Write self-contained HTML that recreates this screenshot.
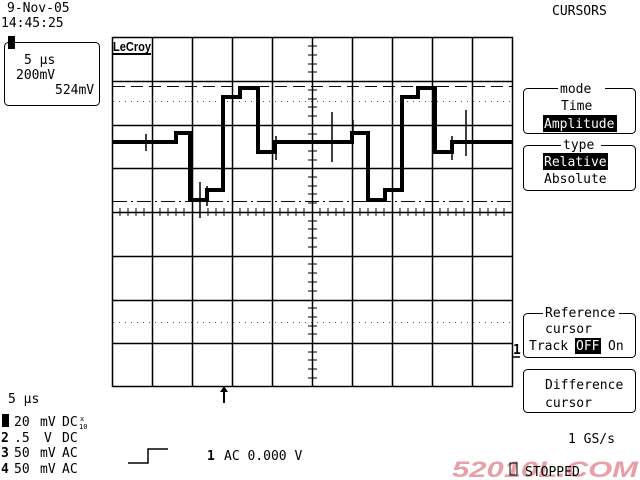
<!DOCTYPE html>
<html><head><style>
html,body{margin:0;padding:0;background:#fff;width:640px;height:480px;overflow:hidden}
svg text{font-family:"DejaVu Sans Mono","Liberation Mono",monospace;font-size:13px;fill:#000;white-space:pre}
</style></head><body>
<svg width="640" height="480" viewBox="0 0 640 480" xmlns="http://www.w3.org/2000/svg" xml:space="preserve">
<rect width="640" height="480" fill="#fff"/>
<text x="7" y="12">9-Nov-05</text>
<text x="1" y="27">14:45:25</text>
<text x="552" y="15">CURSORS</text>
<rect x="4.5" y="42.5" width="95" height="63" rx="4" fill="none" stroke="#000"/>
<rect x="8" y="36" width="7" height="13" fill="#000"/>
<text x="24" y="64">5 μs</text>
<text x="16" y="79">200mV</text>
<text x="55" y="94">524mV</text>
<g stroke="#000" stroke-width="1.5" fill="none">
<rect x="112.5" y="37.5" width="400" height="349"/>
<path d="M152.5 37V387M192.5 37V387M232.5 37V387M272.5 37V387M312.5 37V387M352.5 37V387M392.5 37V387M432.5 37V387M472.5 37V387"/>
<path d="M112 81.5H512M112 125.5H512M112 168.5H512M112 212.5H512M112 256.5H512M112 300.5H512M112 343.5H512"/>
</g>
<g stroke="#000" stroke-width="1">
<path d="M120 208V216M128 208V216M136 208V216M144 208V216M160 208V216M168 208V216M176 208V216M184 208V216M200 208V216M208 208V216M216 208V216M224 208V216M240 208V216M248 208V216M256 208V216M264 208V216M280 208V216M288 208V216M296 208V216M304 208V216M320 208V216M328 208V216M336 208V216M344 208V216M360 208V216M368 208V216M376 208V216M384 208V216M400 208V216M408 208V216M416 208V216M424 208V216M440 208V216M448 208V216M456 208V216M464 208V216M480 208V216M488 208V216M496 208V216M504 208V216"/>
<path d="M308 46H317M308 55H317M308 64H317M308 72H317M308 90H317M308 99H317M308 107H317M308 116H317M308 134H317M308 142H317M308 151H317M308 160H317M308 177H317M308 186H317M308 194H317M308 203H317M308 221H317M308 229H317M308 238H317M308 247H317M308 264H317M308 273H317M308 282H317M308 291H317M308 308H317M308 317H317M308 326H317M308 334H317M308 352H317M308 360H317M308 369H317M308 378H317"/>
</g>
<path d="M113 86.5H512" stroke="#000" stroke-dasharray="12 6"/>
<path d="M113 101.5H512" stroke="#555" stroke-dasharray="1 5"/>
<path d="M113 322.5H512" stroke="#555" stroke-dasharray="1 5"/>
<path d="M113 201.5H512" stroke="#000" stroke-dasharray="14 4 2 4"/>
<text x="113" y="51" font-weight="bold" style="font-family:'Liberation Sans',sans-serif;font-size:13px" textLength="38" lengthAdjust="spacingAndGlyphs">LeCroy</text>
<path d="M113 54H151" stroke="#000" stroke-width="2"/>
<g stroke="#000" fill="none">
<path stroke-width="4" d="M113 142H176V133H190V200H207V190H223V97H240V88H258V152H275V142H352V133H368V200H385V190H402V97H418V88H435V152H452V142H512"/>
<path stroke-width="1.5" d="M146 134V151M200 182V218M332 112V162M353 120V142M466 110V156M276 136V160M452 136V160M207 186V206"/>
</g>
<path d="M224 403V390" stroke="#000" stroke-width="2"/>
<path d="M220 392L224 386L228 392Z" fill="#000"/>
<g fill="none" stroke="#000">
<rect x="523.5" y="88.5" width="112" height="45" rx="4"/>
<rect x="523.5" y="145.5" width="112" height="45" rx="4"/>
<rect x="523.5" y="313.5" width="112" height="44" rx="4"/>
<rect x="523.5" y="369.5" width="112" height="43" rx="4"/>
</g>
<rect x="558" y="82" width="47" height="14" fill="#fff"/>
<text x="560" y="93">mode</text>
<text x="561" y="110">Time</text>
<rect x="543" y="115" width="74" height="17" fill="#000"/>
<text x="544" y="128" style="fill:#fff">Amplitude</text>
<rect x="561" y="138" width="40" height="14" fill="#fff"/>
<text x="563" y="149">type</text>
<rect x="543" y="153" width="65" height="17" fill="#000"/>
<text x="544" y="166" style="fill:#fff">Relative</text>
<text x="544" y="183">Absolute</text>
<rect x="543" y="306" width="76" height="14" fill="#fff"/>
<text x="545" y="317">Reference</text>
<text x="545" y="333">cursor</text>
<text x="529" y="350">Track</text>
<rect x="575" y="338" width="26" height="16" fill="#000"/>
<text x="576" y="350" style="fill:#fff">OFF</text>
<text x="608" y="350">On</text>
<text x="513" y="354" font-weight="bold">1</text>
<path d="M513 357H520" stroke="#000" stroke-width="1.5"/>
<text x="545" y="389">Difference</text>
<text x="545" y="407">cursor</text>
<text x="8" y="403">5 μs</text>
<rect x="2" y="414" width="7" height="13" fill="#000"/>
<text x="14" y="426">20</text><text x="40" y="426">mV</text><text x="62" y="426">DC</text>
<text x="80" y="421" style="font-size:7px">x</text>
<text x="79" y="429" style="font-size:7px">10</text>
<text x="1" y="442" font-weight="bold">2</text><text x="14" y="442">.5</text><text x="44" y="442">V</text><text x="62" y="442">DC</text>
<text x="1" y="457" font-weight="bold">3</text><text x="14" y="457">50</text><text x="40" y="457">mV</text><text x="62" y="457">AC</text>
<text x="1" y="473" font-weight="bold">4</text><text x="14" y="473">50</text><text x="40" y="473">mV</text><text x="62" y="473">AC</text>
<path d="M128 463H148V449H168" stroke="#000" fill="none" stroke-width="1.5"/>
<text x="207" y="460" font-weight="bold">1</text>
<text x="224" y="460">AC 0.000 V</text>
<text x="568" y="443">1 GS/s</text>
<text x="452" y="477" style="font-family:'Liberation Sans',sans-serif;font-size:22px;font-weight:bold;font-style:italic;fill:#e8a0a8" textLength="186" lengthAdjust="spacingAndGlyphs">52010L.COM</text>
<rect x="510" y="463" width="7" height="12" fill="none" stroke="#000"/>
<text x="525" y="476">STOPPED</text>
</svg>
</body></html>
